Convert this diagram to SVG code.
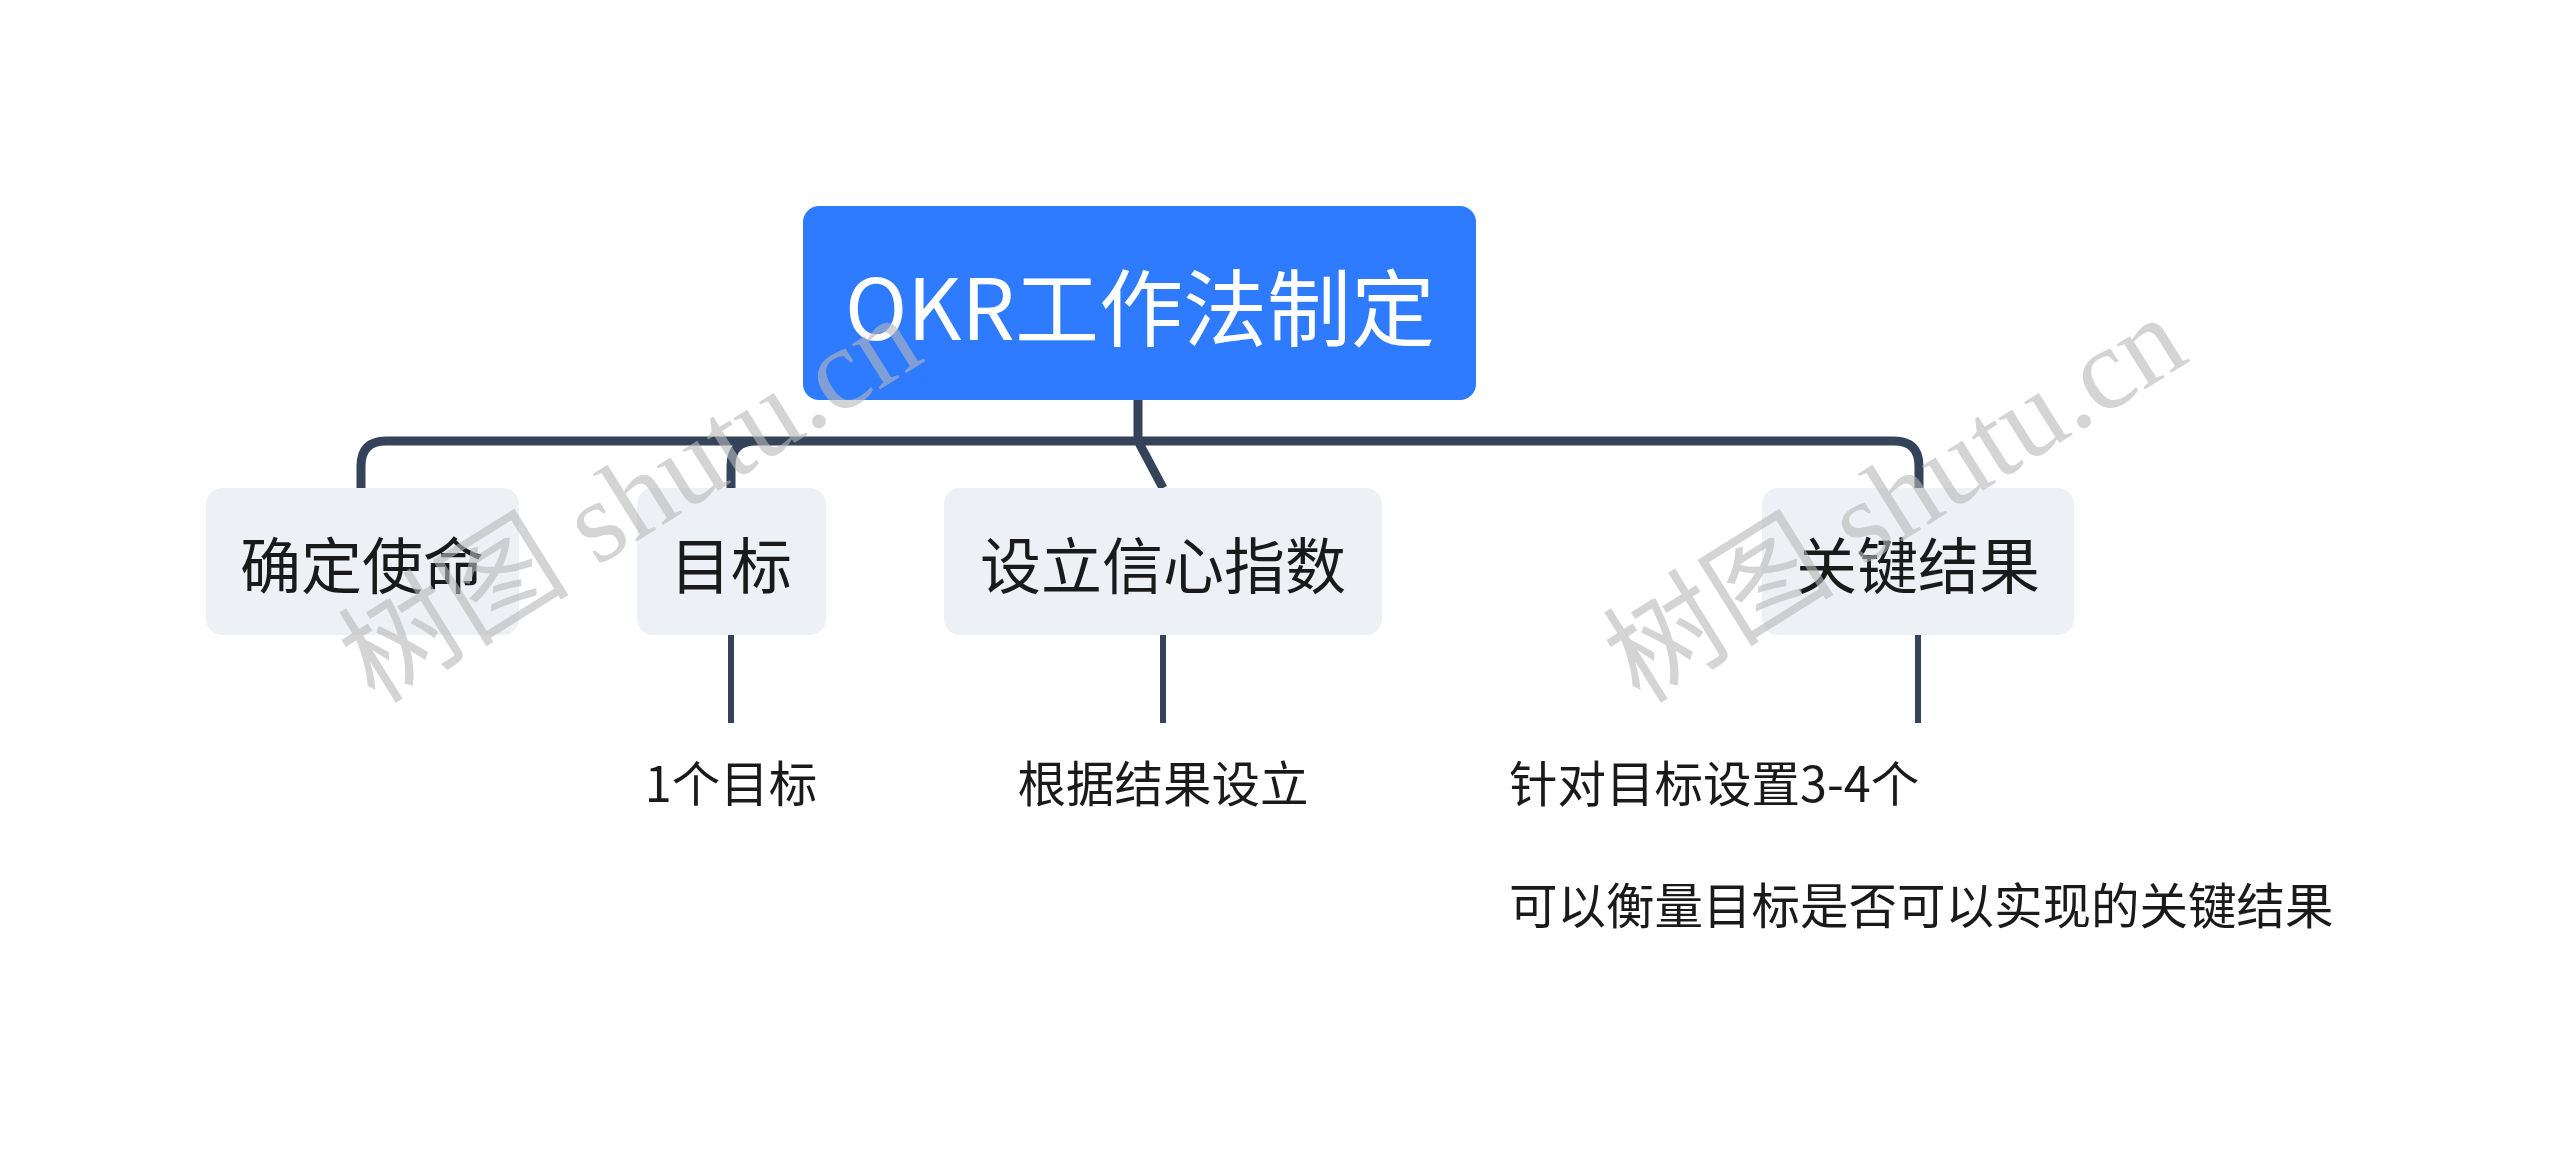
<svg xmlns="http://www.w3.org/2000/svg" width="2560" height="1166" viewBox="0 0 2560 1166">
<style>
.c{fill:#edf1f5}
.ct{font-family:"Noto Sans CJK SC","Liberation Sans",sans-serif;font-size:61px;fill:#1a1a1a;text-anchor:middle;dominant-baseline:central}
.lt{font-family:"Noto Sans CJK SC","Liberation Sans",sans-serif;font-size:48.5px;fill:#1a1a1a;dominant-baseline:central}
.ln{fill:none;stroke:#34435a;stroke-linecap:butt}
.wm{font-family:"Liberation Serif","Noto Sans CJK SC",serif;font-size:116px;fill:#b8b8b8;opacity:0.6}
</style>
<rect width="2560" height="1166" fill="#fff"/>
<g id="connectors">
<path class="ln" stroke-width="9" d="M1138 400V441M361 488V466Q361 441 386 441H1894Q1919 441 1919 466V488M731 488V466Q731 441 756 441M1138 441L1163 488"/>
<path class="ln" stroke-width="6" d="M731 635V723M1163 635V723M1918 635V723"/>
</g>
<g id="root"><rect x="803" y="206" width="673" height="194" rx="16" fill="#2f7bff"/><text x="1140" y="303" style="font-family:'Noto Sans CJK SC','Liberation Sans',sans-serif;font-size:84px;fill:#fff;text-anchor:middle;dominant-baseline:central">OKR工作法制定</text></g>
<g id="n1"><rect class="c" x="206" y="488" width="313" height="147" rx="16"/><text class="ct" x="362" y="562">确定使命</text></g>
<g id="n2"><rect class="c" x="637" y="488" width="189" height="147" rx="16"/><text class="ct" x="731" y="562">目标</text></g>
<g id="n3"><rect class="c" x="944" y="488" width="438" height="147" rx="16"/><text class="ct" x="1163" y="562">设立信心指数</text></g>
<g id="n4"><rect class="c" x="1762" y="488" width="312" height="147" rx="16"/><text class="ct" x="1918" y="562">关键结果</text></g>
<g id="l1"><text class="lt" x="731" y="781" text-anchor="middle">1个目标</text></g>
<g id="l2"><text class="lt" x="1163" y="781" text-anchor="middle">根据结果设立</text></g>
<g id="l3"><text class="lt" x="1509" y="781">针对目标设置3-4个</text></g>
<g id="l4"><text class="lt" x="1509" y="903">可以衡量目标是否可以实现的关键结果</text></g>
<text class="wm" transform="translate(375 705) rotate(-32)">树图 shutu.cn</text>
<text class="wm" transform="translate(1640 705) rotate(-32)">树图 shutu.cn</text>
</svg>
